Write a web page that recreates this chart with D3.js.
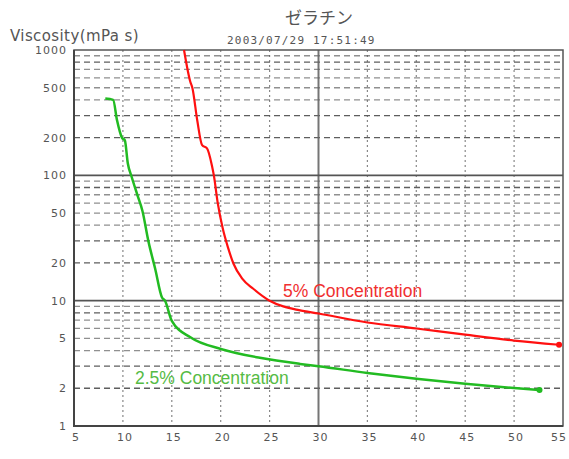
<!DOCTYPE html>
<html lang="ja">
<head>
    <meta charset="UTF-8">
    <title>ゼラチン</title>
    <script src="https://d3js.org/d3.v7.min.js"></script>
    <style>
        body {
            margin: 0;
            padding: 0;
            background: #fff;
            overflow: hidden;
        }
        svg {
            display: block;
        }
        .tick-label {
            font-family: "DejaVu Sans", sans-serif;
            font-size: 11px;
            fill: #555;
            letter-spacing: 1px;
        }
        .series-label {
            font-family: Arial, "Liberation Sans", sans-serif;
            font-size: 17.5px;
        }
    </style>
</head>
<body>
    <svg id="chart" width="569" height="459"></svg>

    <script>
        // x ticks and y ticks (log scale)
        const xTicks = [5, 10, 15, 20, 25, 30, 35, 40, 45, 50, 55];
        const yTicks = [1, 2, 5, 10, 20, 50, 100, 200, 500, 1000];

        // 5% concentration (red)
        const redX = [16.25, 16.9, 17.1, 17.6, 18.1, 18.6, 19.1, 19.3, 19.7, 20.2, 20.75, 21.3, 22.2, 23.3, 25.0, 26.4, 28, 30, 35, 40, 45, 50, 54.6];
        const redY = [1000, 555, 500, 275, 174, 164, 120, 100, 60, 38, 26.5, 19.8, 15, 12.5, 10, 9.0, 8.4, 7.9, 6.7, 6.0, 5.35, 4.8, 4.45];

        // 2.5% concentration (green)
        const greenX = [8.2, 9.0, 9.4, 9.9, 10.2, 10.5, 10.9, 11.5, 12.0, 12.6, 13.3, 14.0, 14.3, 15.0, 16.9, 20.1, 24, 28.1, 30, 35, 40, 45, 50, 52.6];
        const greenY = [410, 400, 275, 200, 190, 125, 97, 69, 52, 30, 18, 10.6, 10, 6.9, 5.1, 4.1, 3.5, 3.13, 3.0, 2.65, 2.38, 2.17, 2.01, 1.94];

        const svg = d3.select("#chart");

        const plotLeft = 74, plotRight = 563, plotTop = 50, plotBottom = 426;

        const x = d3.scaleLinear().domain([5, 55]).range([plotLeft, plotRight]);
        const y = d3.scaleLog().domain([1, 1000]).range([plotBottom, plotTop]);

        // minor horizontal grid: 2..9 in each decade
        const minorY = [];
        [1, 10, 100].forEach(dec => {
            for (let k = 2; k <= 9; k++) minorY.push(dec * k);
        });

        const grid = svg.append("g");

        grid.selectAll("line.hminor")
            .data(minorY)
            .enter().append("line")
            .attr("x1", plotLeft).attr("x2", plotRight)
            .attr("y1", d => y(d)).attr("y2", d => y(d))
            .attr("stroke", "#555")
            .attr("stroke-opacity", d => {
                const m = Math.round(d / Math.pow(10, Math.floor(Math.log10(d) + 1e-9)));
                return (m === 2 || m === 3 || m === 8) ? 0.95 : 0.65;
            })
            .attr("stroke-width", 1.3)
            .attr("stroke-dasharray", "6,4");

        // vertical grid every 5, 30 is solid
        grid.selectAll("line.v")
            .data(xTicks.filter(d => d > 5 && d < 55))
            .enter().append("line")
            .attr("x1", d => x(d)).attr("x2", d => x(d))
            .attr("y1", plotTop).attr("y2", plotBottom)
            .attr("stroke", d => d === 30 ? "#666" : "#555")
            .attr("stroke-width", d => d === 30 ? 2 : 1.2)
            .attr("stroke-opacity", d => d === 30 ? 0.9 : 0.7)
            .attr("stroke-dasharray", d => d === 30 ? null : "2,3");

        // solid decade lines
        grid.selectAll("line.hmajor")
            .data([10, 100])
            .enter().append("line")
            .attr("x1", plotLeft).attr("x2", plotRight)
            .attr("y1", d => y(d)).attr("y2", d => y(d))
            .attr("stroke", "#555")
            .attr("stroke-width", 1.8);

        // frame
        svg.append("rect")
            .attr("x", plotLeft).attr("y", plotTop)
            .attr("width", plotRight - plotLeft).attr("height", plotBottom - plotTop)
            .attr("fill", "none")
            .attr("stroke", "#555")
            .attr("stroke-width", 1.5);
        svg.append("path")
            .attr("d", `M${plotLeft},${plotTop}V${plotBottom}H${plotRight}`)
            .attr("fill", "none")
            .attr("stroke", "#444")
            .attr("stroke-width", 2);

        // tick labels
        svg.selectAll("text.ylab")
            .data(yTicks)
            .enter().append("text")
            .attr("class", "tick-label")
            .attr("x", 67)
            .attr("y", d => y(d) + 4)
            .attr("text-anchor", "end")
            .text(d => d);

        svg.selectAll("text.xlab")
            .data(xTicks)
            .enter().append("text")
            .attr("class", "tick-label")
            .attr("x", d => d === 55 ? 567 : x(d) + 2)
            .attr("y", 441)
            .attr("text-anchor", d => d === 55 ? "end" : "middle")
            .text(d => d);

        // titles
        svg.append("text")
            .attr("x", 10).attr("y", 41)
            .attr("font-family", "DejaVu Sans, sans-serif")
            .attr("font-size", 15)
            .attr("letter-spacing", 0.4)
            .attr("fill", "#555")
            .text("Viscosity(mPa s)");

        svg.append("text")
            .attr("x", 319).attr("y", 24)
            .attr("text-anchor", "middle")
            .attr("font-family", "Noto Sans CJK JP, sans-serif")
            .attr("font-size", 17)
            .attr("fill", "#555")
            .text("ゼラチン");

        svg.append("text")
            .attr("x", 227).attr("y", 44)
            .attr("font-family", "DejaVu Sans Mono, monospace")
            .attr("font-size", 11)
            .attr("letter-spacing", 1.2)
            .attr("fill", "#555")
            .text("2003/07/29 17:51:49");

        // curves
        const line = d3.line()
            .x(d => x(d[0]))
            .y(d => y(d[1]))
            .curve(d3.curveMonotoneX);

        const series = [
            { xs: greenX, ys: greenY, color: "#22bb22", width: 2.5 },
            { xs: redX, ys: redY, color: "#ff1010", width: 2.2 }
        ];

        series.forEach(s => {
            const pts = s.xs.map((v, i) => [v, s.ys[i]]);
            svg.append("path")
                .datum(pts)
                .attr("d", line)
                .attr("fill", "none")
                .attr("stroke", s.color)
                .attr("stroke-width", s.width)
                .attr("stroke-linejoin", "round");
            const last = pts[pts.length - 1];
            svg.append("circle")
                .attr("cx", x(last[0]))
                .attr("cy", y(last[1]))
                .attr("r", 3)
                .attr("fill", s.color);
        });

        svg.append("text")
            .attr("class", "series-label")
            .attr("x", 283).attr("y", 297)
            .attr("fill", "#f03030")
            .text("5% Concentration");

        svg.append("text")
            .attr("class", "series-label")
            .attr("x", 135).attr("y", 384)
            .attr("fill", "#55bb44")
            .text("2.5% Concentration");
    </script>
</body>
</html>
